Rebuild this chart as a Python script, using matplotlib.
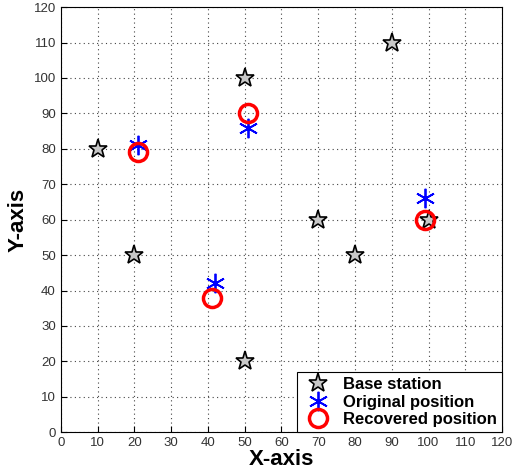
import matplotlib
matplotlib.use('Agg')
import matplotlib.pyplot as plt

plt.rcParams['font.family'] = ['Liberation Sans', 'DejaVu Sans']

# base stations
bs_x = [10, 20, 50, 50, 70, 80, 90, 100]
bs_y = [80, 50, 100, 20, 60, 50, 110, 60]

# original positions
orig_x = [21, 51, 42, 99]
orig_y = [81, 86, 42, 66]

# recovered positions
rec_x = [21, 51, 41, 99]
rec_y = [79, 90, 38, 60]

fig = plt.figure(figsize=(5.15, 4.76), dpi=100)
ax = fig.add_axes([0.118, 0.092, 0.857, 0.893])

ax.plot(bs_x, bs_y, linestyle='none', marker='*', markersize=14,
        markerfacecolor='#c8c8c8', markeredgecolor='black', markeredgewidth=1.2,
        label='Base station')
ax.plot(orig_x, orig_y, linestyle='none', marker=(6, 2, 0), markersize=14,
        color='blue', markeredgewidth=1.3, label='Original position')
ax.plot(rec_x, rec_y, linestyle='none', marker='o', markersize=13,
        markerfacecolor='none', markeredgecolor='red', markeredgewidth=2.5,
        label='Recovered position')

ax.set_xlim(0, 120)
ax.set_ylim(0, 120)
ax.set_xticks(range(0, 121, 10))
ax.set_yticks(range(0, 121, 10))
ax.tick_params(direction='in', labelsize=9.5, labelcolor='#333333', length=4)
ax.grid(True, linestyle=(0, (1, 3)), color='#444444', linewidth=0.8)

ax.set_xlabel('X-axis', fontsize=16, fontweight='bold', labelpad=0)
ax.set_ylabel('Y-axis', fontsize=16, fontweight='bold', labelpad=4)

leg = ax.legend(loc='lower right', prop={'weight': 'bold', 'size': 12},
                fancybox=False, framealpha=1, edgecolor='black',
                borderaxespad=0.0, handletextpad=0.5, labelspacing=0.15,
                borderpad=0.3)
leg.get_frame().set_linewidth(0.8)

fig.savefig('out.png', dpi=100)
